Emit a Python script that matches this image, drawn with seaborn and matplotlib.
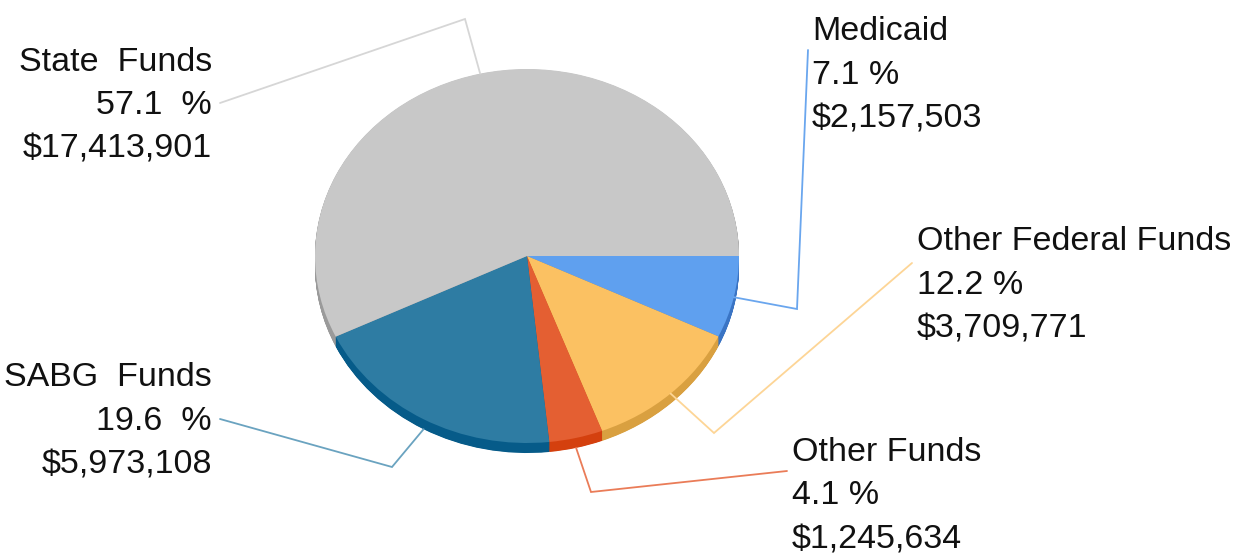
import numpy as np
import matplotlib.pyplot as plt
import seaborn as sns

# %% Data
sources = ["Medicaid", "Other Federal Funds", "Other Funds", "SABG Funds", "State Funds"]
amounts = [2157503, 3709771, 1245634, 5973108, 17413901]

top_colors = ["#5fa0ef", "#fbc162", "#e45f32", "#2e7ca3", "#c8c8c8"]
side_colors = ["#3a74c4", "#d9a040", "#d4400e", "#065b89", "#9a9a9a"]
line_colors = ["#6aa6ee", "#fdd596", "#ea7c58", "#6aa3c0", "#d6d6d6"]

# %% Layout (pixels, y downwards)
W, H = 1241, 555
cx, cy = 527, 256
rx, ry = 212, 187
depth = 10
k = rx / ry  # stretch y so the round pie renders as an ellipse

# label anchor: (x, baseline of first line, alignment)
label_pos = [(812, 40, "left"), (917, 250, "left"), (792, 461, "left"),
             (212, 386, "right"), (212, 71, "right")]
# leader line: elbow point and end point next to the text
elbows = [(797, 309), (714, 433), (591, 492), (392, 467), (465, 19)]
ends = [(808, 50), (912, 263), (787, 471), (220, 419), (220, 103)]
line_step = 43.5

sns.set_theme(style="white")
plt.rcParams["font.family"] = ["Liberation Sans", "DejaVu Sans"]

fig = plt.figure(figsize=(W / 100, H / 100), dpi=100)
ax = fig.add_axes([0, 0, 1, 1])

# side of the disc: stacked darker copies
for dz in np.linspace(depth, 0.5, 24):
    ax.pie(amounts, colors=side_colors, startangle=0, counterclock=True,
           radius=rx, center=(cx, (cy + dz) * k),
           wedgeprops=dict(linewidth=0, antialiased=True))

# top face
wedges, _ = ax.pie(amounts, colors=top_colors, startangle=0, counterclock=True,
                   radius=rx, center=(cx, cy * k),
                   wedgeprops=dict(linewidth=0, antialiased=True))

ax.set_xlim(0, W)
ax.set_ylim(H * k, 0)
ax.set_aspect("auto")
ax.axis("off")

total = sum(amounts)
for w, name, amt, (tx, ty, ha), elb, end, lc in zip(
        wedges, sources, amounts, label_pos, elbows, ends, line_colors):
    mid = np.deg2rad((w.theta1 + w.theta2) / 2)
    ax_x = cx + rx * np.cos(mid)
    ax_y = cy + ry * np.sin(mid)
    if np.sin(mid) > 0.8:
        ax_y += depth
    xs = [ax_x, elb[0], end[0]]
    ys = [ax_y * k, elb[1] * k, end[1] * k]
    ax.plot(xs, ys, color=lc, lw=1.3, solid_joinstyle="miter")

    pct = f"{100 * amt / total:.1f} %"
    money = f"${amt:,}"
    lines = [name, pct, money]
    if ha == "right":
        lines = [s.replace(" ", "  ") for s in lines]
    for i, s in enumerate(lines):
        ax.text(tx, (ty + i * line_step) * k, s, ha=ha, va="baseline",
                fontsize=24.5, color="#111111")

fig.savefig("out.png", dpi=100, facecolor="white")
